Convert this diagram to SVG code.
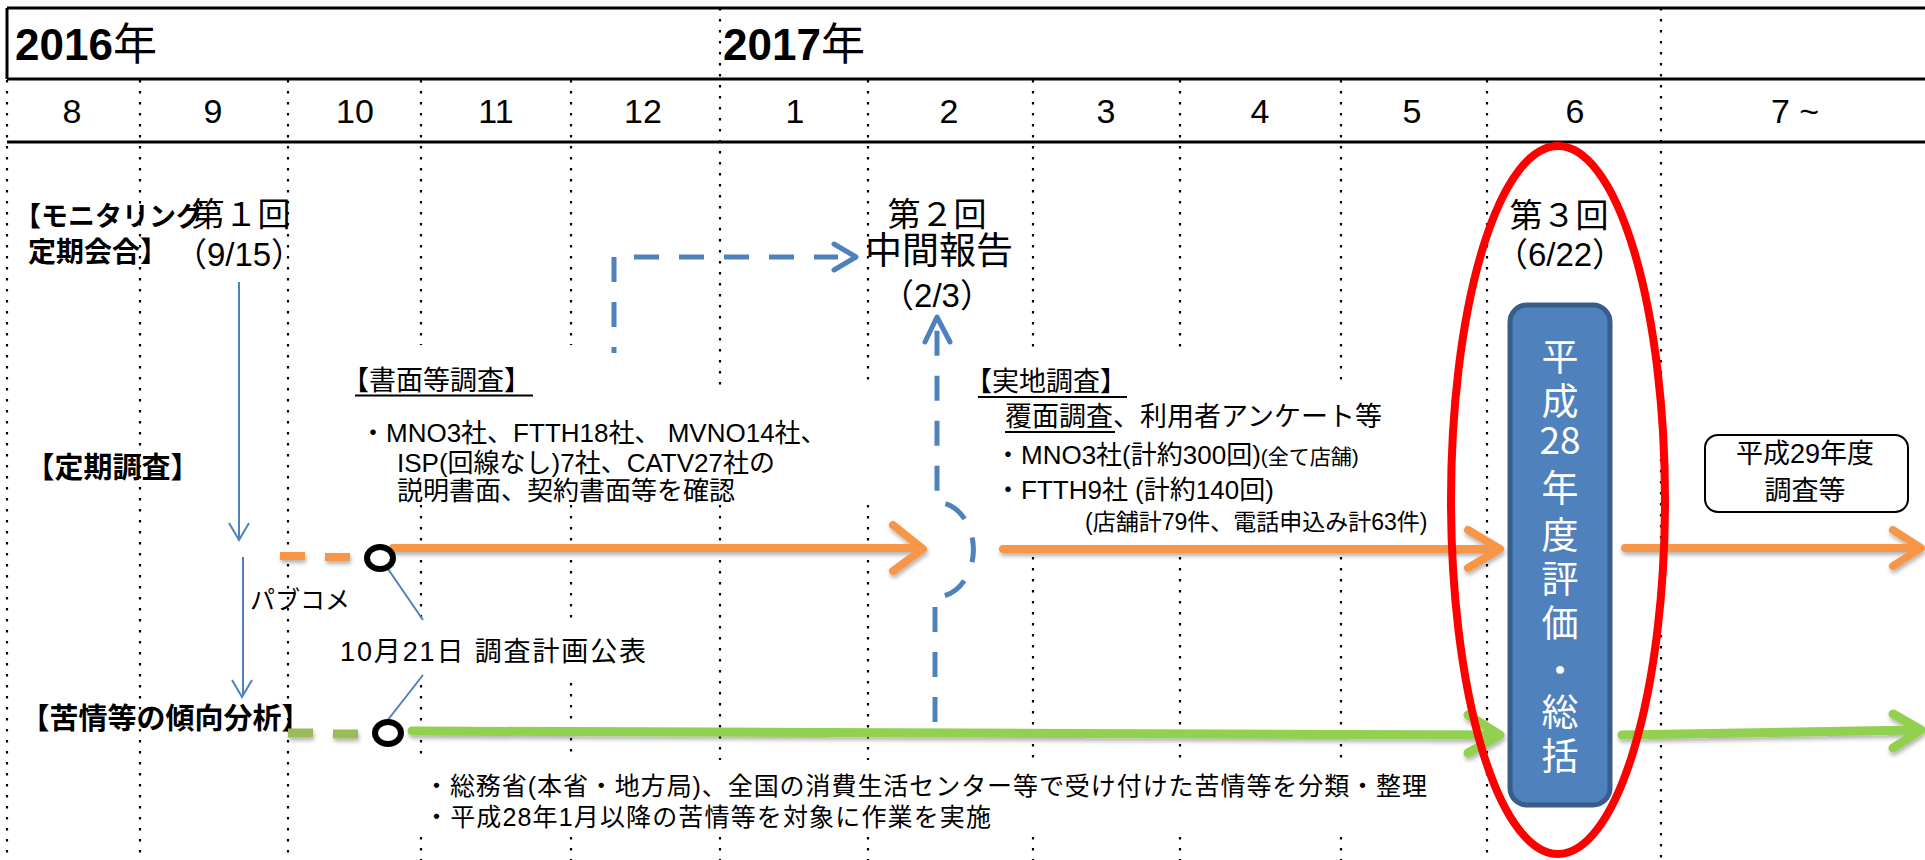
<svg xmlns="http://www.w3.org/2000/svg" width="1925" height="860" viewBox="0 0 1925 860">
<defs>
<style>
text { font-family: 'Liberation Sans', 'Noto Sans CJK JP', sans-serif; fill: #000; }
.b { font-weight: bold; }
.m { font-size: 34px; text-anchor: middle; }
.t26 { font-size: 26px; }
.dot { stroke: #000; stroke-width: 2.2; stroke-dasharray: 2.5 8.5; fill: none; }
.hdr { stroke: #000; stroke-width: 3; fill: none; }
.ul { stroke: #000; stroke-width: 1.8; }
.or { stroke: #F79646; stroke-width: 8; fill: none; stroke-linecap: round; stroke-linejoin: round; }
.gr { stroke: #92D050; stroke-width: 9; fill: none; stroke-linecap: round; stroke-linejoin: round; }
.ordash { stroke: #F79646; stroke-width: 8; fill: none; }
.grdash { stroke: #9BBB59; stroke-width: 9; fill: none; }
.thin { stroke: #4F81BD; stroke-width: 2; fill: none; }
.bdash { stroke: #4F81BD; stroke-width: 5; fill: none; stroke-dasharray: 25 20; }
.bhead { stroke: #4F81BD; stroke-width: 5; fill: none; stroke-linecap: round; stroke-linejoin: round; }
.ms { fill: #fff; stroke: #000; stroke-width: 6; }
.wt { fill: #fff; font-size: 37px; text-anchor: middle; font-family: 'Noto Sans CJK JP', 'Liberation Sans', sans-serif; }
</style>
<filter id="sh" filterUnits="userSpaceOnUse" x="0" y="0" width="1925" height="860">
<feDropShadow dx="1" dy="3" stdDeviation="2" flood-color="#000" flood-opacity="0.3"/>
</filter>
</defs>
<rect x="0" y="0" width="1925" height="860" fill="#fff"/>

<g id="header">
<path class="hdr" d="M7 8 H1925 M7 79 H1925 M7 142 H1925 M7 8 V79"/>
<text x="15" y="60" class="b" font-size="44">2016<tspan font-weight="normal">年</tspan></text>
<text x="723" y="60" class="b" font-size="44">2017<tspan font-weight="normal">年</tspan></text>
<text class="m" x="72" y="123">8</text>
<text class="m" x="213" y="123">9</text>
<text class="m" x="355" y="123">10</text>
<text class="m" x="496" y="123">11</text>
<text class="m" x="643" y="123">12</text>
<text class="m" x="795" y="123">1</text>
<text class="m" x="949" y="123">2</text>
<text class="m" x="1106" y="123">3</text>
<text class="m" x="1260" y="123">4</text>
<text class="m" x="1412" y="123">5</text>
<text class="m" x="1575" y="123">6</text>
<text class="m" x="1795" y="123">7 ~</text>
</g>

<g id="grid">
<path class="dot" d="M7 80 V860"/>
<path class="dot" d="M140 80 V860"/>
<path class="dot" d="M288 80 V860"/>
<path class="dot" d="M421 80 V345 M421 505 V620 M421 685 V760 M421 837 V860"/>
<path class="dot" d="M571 80 V345 M571 505 V622 M571 683 V760 M571 837 V860"/>
<path class="dot" d="M720 8 V390 M720 505 V760 M720 837 V860"/>
<path class="dot" d="M868 80 V388 M868 505 V760 M868 837 V860"/>
<path class="dot" d="M1033 80 V347 M1033 557 V760 M1033 837 V860"/>
<path class="dot" d="M1180 80 V347 M1180 557 V760 M1180 837 V860"/>
<path class="dot" d="M1341 80 V388 M1341 557 V760 M1341 837 V860"/>
<path class="dot" d="M1487 80 V860"/>
<path class="dot" d="M1661 8 V860"/>
</g>

<g id="label-monitoring">
<text x="14" y="226" class="b" font-size="27">【モニタリング</text>
<text x="28" y="262" class="b" font-size="28">定期会合】</text>
</g>
<g id="label-teiki">
<text x="25.5" y="478" class="b" font-size="29">【定期調査】</text>
</g>
<g id="label-kujo">
<text x="20.5" y="729" class="b" font-size="29">【苦情等の傾向分析】</text>
</g>

<g id="meeting1">
<text x="241" y="226" font-size="33" text-anchor="middle">第１回</text>
<text x="239" y="266" font-size="33" text-anchor="middle">（9/15）</text>
</g>
<g id="meeting2">
<text x="937" y="226" font-size="33" text-anchor="middle">第２回</text>
<text x="939" y="264" font-size="37" text-anchor="middle">中間報告</text>
<text x="937" y="307" font-size="33" text-anchor="middle">（2/3）</text>
</g>
<g id="meeting3">
<text x="1559" y="227" font-size="33" text-anchor="middle">第３回</text>
<text x="1560" y="266" font-size="33" text-anchor="middle">（6/22）</text>
</g>

<g id="shomen">
<text x="342" y="390" font-size="27">【書面等調査】</text>
<line class="ul" x1="355" y1="395.5" x2="533" y2="395.5"/>
<text x="360" y="442" class="t26">・MNO3社、FTTH18社、 MVNO14社、</text>
<text x="397" y="472" class="t26">ISP(回線なし)7社、CATV27社の</text>
<text x="397" y="500" class="t26">説明書面、契約書面等を確認</text>
</g>

<g id="jicchi">
<text x="965" y="391" font-size="27">【実地調査】</text>
<line class="ul" x1="978" y1="397" x2="1127" y2="397"/>
<text x="1005" y="426" font-size="27">覆面調査、利用者アンケート等</text>
<line class="ul" x1="1005" y1="432" x2="1115" y2="432"/>
<text x="995" y="464" class="t26">・MNO3社(計約300回)<tspan font-size="21">(全て店舗)</tspan></text>
<text x="995" y="499" class="t26">・FTTH9社  (計約140回)</text>
<text x="1085" y="530" font-size="23">(店舗計79件、電話申込み計63件)</text>
</g>

<g id="pubcom">
<text x="250" y="609" font-size="25">パブコメ</text>
</g>
<g id="announce">
<text x="340" y="661" font-size="27" textLength="306" lengthAdjust="spacing">10月21日 調査計画公表</text>
</g>

<g id="kujo-note">
<text x="424" y="795" font-size="25" textLength="1003" lengthAdjust="spacing">・総務省(本省・地方局)、全国の消費生活センター等で受け付けた苦情等を分類・整理</text>
<text x="424" y="826" font-size="25" textLength="567" lengthAdjust="spacing">・平成28年1月以降の苦情等を対象に作業を実施</text>
</g>

<g id="next-year">
<rect x="1705" y="435" width="203" height="77" rx="13" fill="#fff" stroke="#000" stroke-width="2"/>
<text x="1805" y="463" font-size="27" text-anchor="middle">平成29年度</text>
<text x="1805" y="500" font-size="27" text-anchor="middle">調査等</text>
</g>

<g id="connectors">
<g filter="url(#sh)">
<path class="ordash" d="M280 556 H305 M325 557 H350"/>
<path class="grdash" d="M288 733 H313 M333 734 H358"/>
<path class="or" d="M393 548 H921 M893 525 L923 549 L893 571"/>
<path class="or" d="M1003 549 H1498 M1468 530 L1500 549 L1468 568"/>
<path class="or" d="M1625 548 H1919 M1893 530 L1921 548 L1893 566"/>
<path class="gr" d="M412 731 L1497 735 M1468 715 L1500 735 L1468 753"/>
<path class="gr" d="M1622 735 L1918 730 M1893 714 L1921 730 L1893 748"/>
</g>
<path class="thin" d="M239 282 V539 M229 523 L239 540 L249 523"/>
<path class="thin" d="M243 557 V696 M232 680 L242 697 L252 680"/>
<path class="thin" d="M386 566 L423 620 M423 675 L387 721" stroke-width="1.6"/>
<path class="bdash" d="M614 353 V257 H838" stroke-dashoffset="19"/>
<path class="bhead" d="M834 244 L856 257 L834 270"/>
<path class="bdash" d="M935 722 V597 A37 47 0 0 0 937 502 V330"/>
<path class="bhead" d="M925 342 L937 317 L950 342"/>
</g>

<g id="milestones">
<ellipse class="ms" cx="380" cy="558" rx="13" ry="11"/>
<ellipse class="ms" cx="388" cy="733" rx="13" ry="11"/>
</g>

<g id="evaluation">
<rect x="1510" y="305" width="100" height="500" rx="17" fill="#4F81BD" stroke="#385D8A" stroke-width="5"/>
<text class="wt"><tspan x="1560" y="371">平</tspan><tspan x="1560" y="415">成</tspan><tspan x="1560" y="454">28</tspan><tspan x="1560" y="502">年</tspan><tspan x="1560" y="549">度</tspan><tspan x="1560" y="593">評</tspan><tspan x="1560" y="637">価</tspan><tspan x="1560" y="684">・</tspan><tspan x="1560" y="726">総</tspan><tspan x="1560" y="770">括</tspan></text>
</g>

<g id="highlight">
<ellipse cx="1558" cy="500" rx="107" ry="354" fill="none" stroke="#FF0000" stroke-width="8"/>
</g>
</svg>
